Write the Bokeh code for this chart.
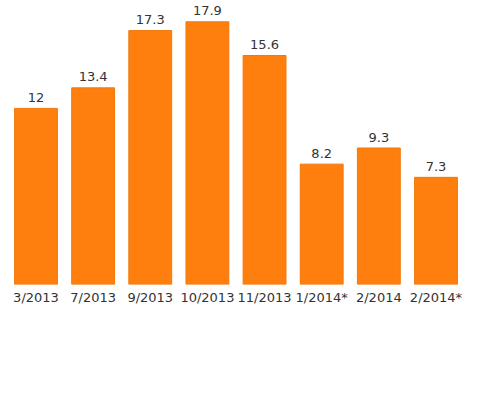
from bokeh.plotting import figure
from bokeh.models import ColumnDataSource, Range1d, FixedTicker
from bokeh.core.properties import value
from bokeh.embed import file_html
from bokeh.resources import INLINE

categories = ["3/2013", "7/2013", "9/2013", "10/2013", "11/2013", "1/2014*", "2/2014", "2/2014*"]
values = [12, 13.4, 17.3, 17.9, 15.6, 8.2, 9.3, 7.3]
value_labels = ["12", "13.4", "17.3", "17.9", "15.6", "8.2", "9.3", "7.3"]

xs = list(range(len(categories)))
src = ColumnDataSource(dict(x=xs, top=values, lab=value_labels))

p = figure(width=482, height=392, output_backend="svg", toolbar_location=None,
           x_range=Range1d(-0.481, 7.814), y_range=Range1d(0, 19.35),
           min_border_left=8, min_border_right=0, min_border_top=0, min_border_bottom=108)
p.outline_line_color = None
p.grid.visible = False
p.yaxis.visible = False
p.background_fill_color = "white"
p.border_fill_color = "white"

p.vbar(x="x", top="top", width=0.75, bottom=0, source=src,
       fill_color="#FF7F0E", line_color="#F0780C", line_width=1)
p.text(x="x", y="top", text="lab", source=src, text_align="center",
       text_baseline="alphabetic", y_offset=-11, text_color="#333333",
       text_font=value("DejaVu Sans"), text_font_size="13px")

ax = p.xaxis[0]
ax.ticker = FixedTicker(ticks=xs)
ax.major_label_overrides = {i: c for i, c in zip(xs, categories)}
ax.axis_line_color = None
ax.major_tick_line_color = None
ax.minor_tick_line_color = None
ax.major_tick_out = 0
ax.major_tick_in = 0
ax.major_label_standoff = 5
ax.major_label_text_font = "DejaVu Sans"
ax.major_label_text_font_size = "13px"
ax.major_label_text_color = "#333333"

open("out.html", "w").write(file_html(p, INLINE))
